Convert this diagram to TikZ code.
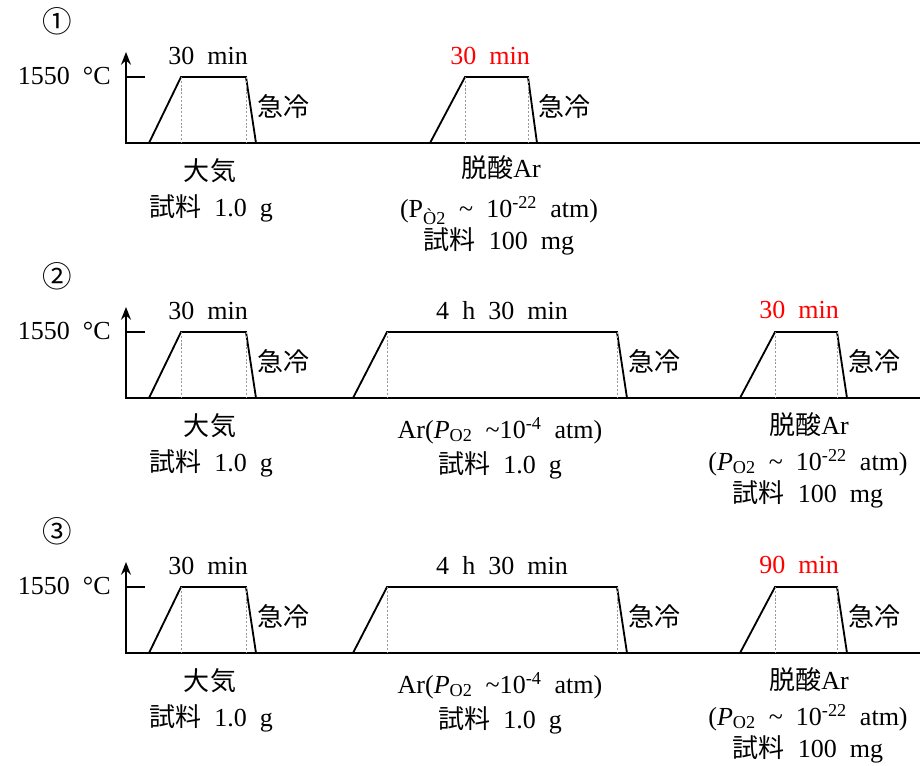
\documentclass[tikz,border=0pt]{standalone}
\usepackage{fontspec}
\setmainfont{Liberation Serif}[WordSpace=2]
\newfontfamily\jpfont{Noto Sans CJK JP}
\usetikzlibrary{arrows.meta,positioning}
\tikzset{
  axis/.style={line width=2.1pt},
  prof/.style={line width=1.3pt},
  tck/.style={line width=0.8pt},
  hold/.style={draw=gray!80, line width=0.5pt, dash pattern=on 1.5pt off 1.2pt},
  lbl/.style={font=\fontsize{18.5}{22}\selectfont, inner sep=0pt, text height=14pt, text depth=4pt},
  jplbl/.style={lbl, font=\fontsize{18.5}{22}\selectfont\jpfont},
  hotlbl/.style={lbl, text=red}
}
% one heating profile: name, base line, start, top left, top right, end
\newcommand{\heatcycle}[6]{%
  \coordinate (#1-s) at (#3,#2);
  \coordinate (#1-l) at (#4,#2-66);
  \coordinate (#1-r) at (#5,#2-66);
  \coordinate (#1-e) at (#6,#2);
  \draw[prof] (#1-s) -- (#1-l) -- (#1-r) -- (#1-e);
  \draw[hold] (#1-l) -- (#1-l |- #1-s);
  \draw[hold] (#1-r) -- (#1-r |- #1-s);
  \node[jplbl, anchor=west] (#1-q) at (#6+1,#2-34) {急冷};
}

\begin{document}
\begin{tikzpicture}[x=0.025cm, y=-0.025cm]
  \useasboundingbox (0,0) rectangle (920,765);

  % Axes and first (air) step, same in every row
  \foreach \r/\num in {0/①,1/②,2/③}{
    \pgfmathsetmacro{\B}{143+255*\r}
    \node[jplbl, font=\fontsize{21}{22}\selectfont\jpfont] (n\r) at (57,\B-118) {\num};
    \coordinate (o\r) at (126,\B);
    \coordinate (t\r) at (126,\B-91);
    \coordinate (x\r) at (921,\B);
    \draw[axis, {Stealth[length=9pt,width=7pt]}-] (t\r) -- (o\r) -- (x\r);
    \heatcycle{a\r}{\B}{149}{181}{246}{256}
    \draw[tck] (o\r |- a\r-l) -- ++(19,0);
    \node[lbl, anchor=east] (T\r) at (111,\B-66) {1550 °C};
    \node[lbl] (ha\r) at (208,\B-86) {30 min};
    \node[jplbl] (ga\r) at (210,\B+30) {大気};
    \node[lbl] (ma\r) at (211,\B+66) {{\jpfont 試料} 1.0 g};
  }

  % Row 1: deoxidised Ar
  \heatcycle{b0}{143}{430}{465}{528}{537}
  \node[hotlbl] (hb0) at (490,57) {30 min};
  \node[lbl] (gb0) at (501,170) {{\jpfont 脱酸}Ar};
  \node[lbl] (pb0) at (499,210) {(P\textsubscript{Ò2} \textasciitilde{} 10\textsuperscript{-22} atm)};
  \node[lbl] (mb0) at (499,242) {{\jpfont 試料} 100 mg};

  % Rows 2 and 3: Ar hold, then deoxidised Ar
  \foreach \r/\t in {1/30 min,2/90 min}{
    \pgfmathsetmacro{\B}{143+255*\r}
    \heatcycle{c\r}{\B}{353}{387}{617}{627}
    \node[lbl] (hc\r) at (502,\B-86) {4 h 30 min};
    \node[lbl] (pc\r) at (500,\B+33) {Ar(\textit{P}\textsubscript{O2} \textasciitilde10\textsuperscript{-4} atm)};
    \node[lbl] (mc\r) at (500,\B+68) {{\jpfont 試料} 1.0 g};
    \heatcycle{d\r}{\B}{740}{775}{837}{847}
    \node[hotlbl] (hd\r) at (799,\B-87) {\t};
    \node[lbl] (gd\r) at (809,\B+29) {{\jpfont 脱酸}Ar};
    \node[lbl] (pd\r) at (808,\B+65) {(\textit{P}\textsubscript{O2} \textasciitilde{} 10\textsuperscript{-22} atm)};
    \node[lbl] (md\r) at (808,\B+97) {{\jpfont 試料} 100 mg};
  }
\end{tikzpicture}
\end{document}
